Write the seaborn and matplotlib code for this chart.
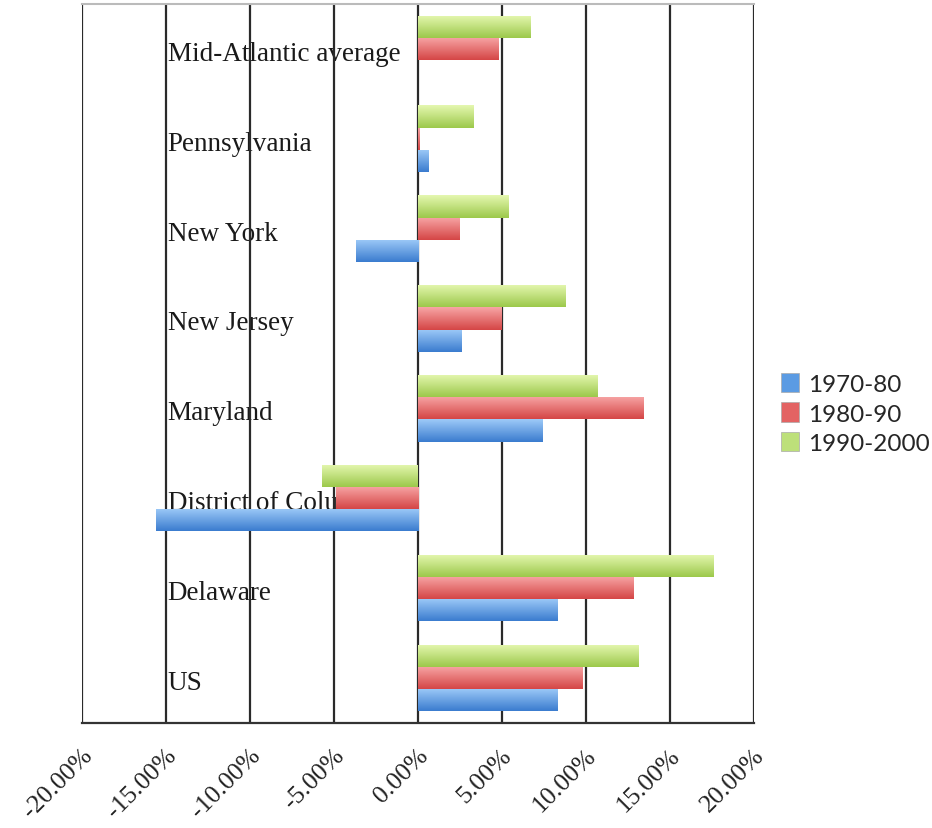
import numpy as np
import pandas as pd
import matplotlib
matplotlib.use("Agg")
import matplotlib.pyplot as plt
import matplotlib.transforms as mtrans
import seaborn as sns
from matplotlib.patches import Patch
from matplotlib.colors import LinearSegmentedColormap

# categories bottom to top
states = ["US", "Delaware", "District of Columbia", "Maryland",
          "New Jersey", "New York", "Pennsylvania", "Mid-Atlantic average"]
periods = ["1970-80", "1980-90", "1990-2000"]
growth_7080 = [8.3, 8.3, -15.6, 7.4, 2.6, -3.7, 0.6, 0.0]
growth_8090 = [9.8, 12.8, -4.9, 13.4, 5.0, 2.5, 0.1, 4.8]
growth_9000 = [13.1, 17.6, -5.7, 10.7, 8.8, 5.4, 3.3, 6.7]
xticks = [-20, -15, -10, -5, 0, 5, 10, 15, 20]

colors = {"1970-80": "#5b9be3", "1980-90": "#e36363", "1990-2000": "#bde07a"}
# (bottom, top) gradient of each series, Excel-like
grads = {"1970-80": ("#3b7ccf", "#9dcaf8"),
         "1980-90": ("#d54646", "#f7a5a5"),
         "1990-2000": ("#9cc94b", "#e5f7b0")}

df = pd.DataFrame({
    "state": states * 3,
    "period": [p for p in periods for _ in states],
    "growth": growth_7080 + growth_8090 + growth_9000,
})

sns.set_style("white")
serif = ["Liberation Serif", "DejaVu Serif"]
plt.rcParams["font.family"] = serif

fig = plt.figure(figsize=(9.32, 8.29), dpi=100)
ax = fig.add_axes([0.088, 0.127, 0.721, 0.867])

sns.barplot(data=df, y="state", x="growth", hue="period", order=states,
            hue_order=periods, palette=colors, orient="h", width=0.74,
            saturation=1, ax=ax, legend=False, linewidth=0, zorder=3)
ax.invert_yaxis()  # US at bottom, 1970-80 lowest bar in each group

# gradient fill for each bar
grad = np.linspace(0, 1, 64).reshape(-1, 1)
for cont, p in zip(ax.containers, periods):
    cmap = LinearSegmentedColormap.from_list(p, grads[p])
    for bar in cont:
        x0, y0 = bar.get_x(), bar.get_y()
        w, h = bar.get_width(), bar.get_height()
        if w == 0:
            continue
        im = ax.imshow(grad, cmap=cmap, aspect="auto", origin="lower",
                       extent=[x0, x0 + w, y0, y0 + h], zorder=3,
                       interpolation="bilinear")
        im.set_clip_path(bar)
        bar.set_facecolor("none")

ax.set_xlim(-20, 20)
ax.set_ylim(-0.5, len(states) - 0.5)
ax.set_xticks(xticks)
ax.set_xticklabels([f"{t:.2f}%" for t in xticks], rotation=45,
                   ha="right", va="top", rotation_mode="anchor")
ax.tick_params(axis="x", length=0, pad=15, labelsize=18.5,
               labelfontfamily="Liberation Serif", labelcolor="#222222")
shift = mtrans.ScaledTranslation(-1 / 100, 0, fig.dpi_scale_trans)
for lab in ax.get_xticklabels():
    lab.set_fontfamily("Liberation Serif")
    lab.set_transform(lab.get_transform() + shift)
ax.set_yticks([])
ax.set_xlabel("")
ax.set_ylabel("")

for t in xticks:
    ax.axvline(t, color="#2a2a2a", lw=1.6, zorder=1)
for side in ["left", "right"]:
    ax.spines[side].set_visible(False)
ax.spines["bottom"].set_color("#333333")
ax.spines["bottom"].set_linewidth(1.6)
ax.spines["top"].set_color("#bbbbbb")
ax.spines["top"].set_linewidth(1.5)

for i, s in enumerate(states):
    ax.text(-14.9, i - 0.05, s, ha="left", va="center", fontsize=19.5,
            family=serif, color="#1a1a1a", zorder=0.5)

handles = [Patch(facecolor=colors[p], edgecolor="#aaaaaa", lw=0.5) for p in periods]
fig.legend(handles, periods, loc="center left", bbox_to_anchor=(0.838, 0.50),
           frameon=False, handlelength=0.75, handleheight=0.85,
           handletextpad=0.35, labelspacing=0.3, borderpad=0, borderaxespad=0,
           prop={"family": "Lato", "size": 17.5})

fig.savefig("out.png", dpi=100)
